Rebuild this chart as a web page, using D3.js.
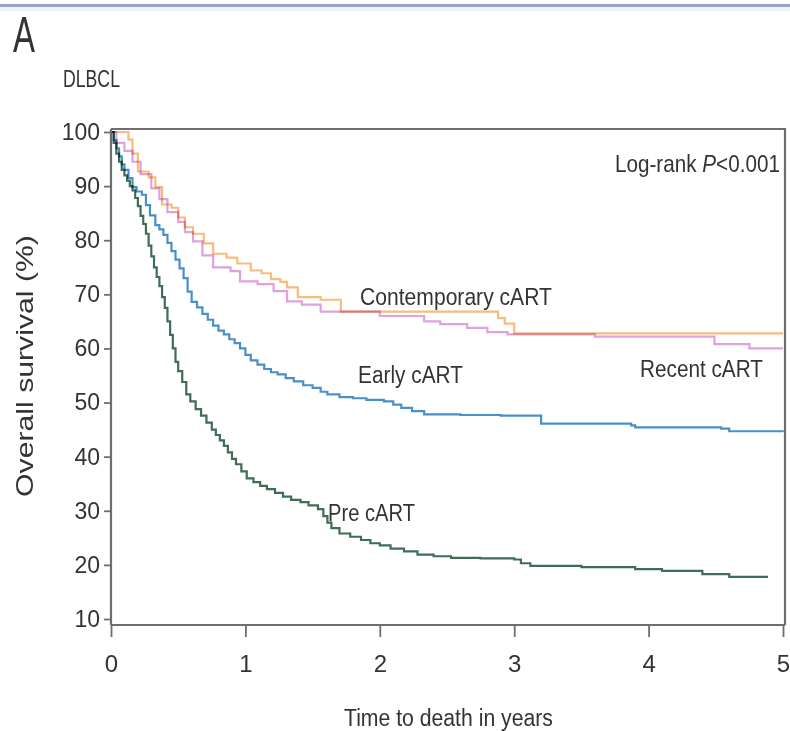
<!DOCTYPE html>
<html><head><meta charset="utf-8">
<script src="https://cdn.jsdelivr.net/npm/d3@7"></script>
<style>
html,body{margin:0;padding:0;background:#fff;}
svg{display:block;font-family:"Liberation Sans",Arial,sans-serif;}
</style></head>
<body>
<svg id="chart" width="790" height="731"></svg>
<script>
// ---- data ----
const xTicks = [0, 1, 2, 3, 4, 5];
const yTicks = [10, 20, 30, 40, 50, 60, 70, 80, 90, 100];

const preCART = [[0,100],[0.02,98],[0.04,96],[0.06,94.5],[0.08,93],[0.1,92],[0.12,91],[0.14,90],[0.16,89.2],
 [0.18,87.8],[0.2,86.3],[0.22,84.5],[0.24,83],[0.26,81.2],[0.28,79],[0.3,77],[0.32,75],[0.34,73.2],[0.36,71.5],
 [0.38,69.5],[0.4,67.5],[0.42,65],[0.44,62.5],[0.46,60],[0.48,57.5],[0.5,55.8],[0.53,53.8],[0.56,51.5],[0.59,50.2],
 [0.63,48.8],[0.67,47.6],[0.71,46.3],[0.75,45],[0.78,44],[0.81,43],[0.84,42],[0.87,40.8],[0.9,39.6],[0.93,38.6],
 [0.97,37.3],[1.01,36],[1.06,35.3],[1.11,34.6],[1.16,34],[1.22,33.3],[1.28,32.6],[1.34,32],[1.41,31.6],[1.47,31],
 [1.54,30.3],[1.58,29],[1.61,27.8],[1.64,26.8],[1.7,25.8],[1.78,25.2],[1.86,24.6],[1.93,24],[2.0,23.6],[2.08,23],
 [2.18,22.5],[2.28,21.9],[2.4,21.6],[2.53,21.3],[2.75,21.2],[3.0,21.0],[3.05,20.3],[3.12,19.8],[3.5,19.6],
 [3.9,19.2],[4.1,18.9],[4.4,18.3],[4.6,17.8],[4.88,17.6]];

const earlyCART = [[0,100],[0.02,98.5],[0.04,97],[0.06,95.5],[0.08,94],[0.1,93],[0.13,91.5],[0.16,89.8],[0.19,89],
 [0.23,88.4],[0.26,86.5],[0.29,84.6],[0.33,82.8],[0.36,82],[0.39,81],[0.42,79.5],[0.45,78],[0.48,76.4],[0.51,74.8],
 [0.54,73],[0.57,70.5],[0.6,68.6],[0.64,67.6],[0.68,66.4],[0.72,65.3],[0.76,64.2],[0.8,63.3],[0.84,62.6],[0.88,61.7],
 [0.92,61],[0.96,60],[1.0,58.8],[1.04,57.8],[1.09,57],[1.14,56.2],[1.19,55.6],[1.24,55.2],[1.3,54.5],[1.36,53.9],
 [1.43,53.2],[1.5,52.7],[1.56,52],[1.61,51.5],[1.7,51],[1.8,50.8],[1.9,50.5],[2.03,50.2],[2.1,49.6],[2.16,49],
 [2.24,48.4],[2.33,47.8],[2.6,47.7],[2.9,47.6],[3.2,46.1],[3.87,45.8],[3.9,45.4],[4.54,45.2],[4.6,44.7],[5.0,44.6]];

const contemporaryCART = [[0,100],[0.13,98.6],[0.16,96],[0.2,92.7],[0.28,91.6],[0.33,89.8],[0.38,86.6],[0.45,86],
 [0.5,84.2],[0.55,82.4],[0.61,81.2],[0.69,79.4],[0.76,77.5],[0.86,76.8],[0.94,75.7],[1.04,74.4],[1.12,73.9],
 [1.19,72.8],[1.26,72.3],[1.31,71.3],[1.39,69.5],[1.56,69],[1.71,66.8],[2.88,65.6],[2.93,64.6],[3.0,62.8],[5.0,62.8]];

const recentCART = [[0,100],[0.04,98],[0.1,96.5],[0.16,94.5],[0.22,92.2],[0.3,89.6],[0.36,87.6],[0.42,85.2],
 [0.5,83.4],[0.55,81.5],[0.61,79.8],[0.68,77.2],[0.76,75],[0.89,74.3],[0.96,72.4],[1.09,71.9],[1.21,70.6],
 [1.31,68.7],[1.42,68.1],[1.56,66.8],[2.0,66],[2.33,65],[2.45,64.5],[2.65,63.8],[2.8,63],[2.95,62.6],[3.6,62.2],
 [4.49,60.8],[4.75,60],[5.0,60]];

const seriesNames = ["Pre cART","Early cART","Recent cART","Contemporary cART"];
const seriesColors = ["#3f6e55","#4b8fc9","#e0a2df","#f5bd7e"];
const seriesData = [preCART, earlyCART, recentCART, contemporaryCART];

// ---- layout ----
const svg = d3.select("#chart");
const x = d3.scaleLinear().domain([0,5]).range([111,783]);
const y = d3.scaleLinear().domain([10,100]).range([619,132]);
const plotTop = 129, plotBottom = 625, plotLeft = 111, plotRight = 785;
const textColor = "#333";

// top screenshot strip
svg.append("rect").attr("x",0).attr("y",4).attr("width",790).attr("height",3).attr("fill","#97a3c6");
svg.append("rect").attr("x",0).attr("y",7).attr("width",790).attr("height",4).attr("fill","#eef2fa");

// condensed text helper
function ctext(g, str, xPos, base, size, width, opts={}) {
  const t = g.append("text").attr("x",0).attr("y",0)
    .attr("font-size",size).attr("fill",textColor);
  if (opts.parts) {
    opts.parts.forEach(p => t.append("tspan").text(p[0]).attr("font-style", p[1] ? "italic" : null));
  } else t.text(str);
  const w = t.node().getComputedTextLength();
  const s = width / w;
  t.attr("transform", `translate(${xPos},${base}) scale(${s},1)`);
  return t;
}

// curves
const line = d3.line().x(d=>x(d[0])).y(d=>y(d[1])).curve(d3.curveStepAfter);
const gc = svg.append("g");
seriesData.forEach((s,i)=>{
  gc.append("path").datum(s).attr("d",line).attr("fill","none")
    .attr("stroke",seriesColors[i]).attr("stroke-width",2.2)
    .style("mix-blend-mode","multiply");
});

// frame: top & right border
svg.append("path").attr("d",`M${plotLeft},${plotTop}H${plotRight}V${plotBottom}`)
  .attr("fill","none").attr("stroke","#6e6e6e").attr("stroke-width",2.2);

// y axis
const yAxis = d3.axisLeft(y).tickValues(yTicks).tickSize(7).tickPadding(4);
const gy = svg.append("g").attr("transform",`translate(${plotLeft},0)`).call(yAxis);
gy.select(".domain").attr("d",`M0,${plotTop}V${plotBottom}`).attr("stroke","#6e6e6e").attr("stroke-width",2.2);
gy.selectAll(".tick line").attr("stroke","#6e6e6e").attr("stroke-width",1.8);
gy.selectAll(".tick text").attr("font-size",23).attr("fill",textColor)
  .attr("font-family","Liberation Sans, Arial, sans-serif");

// x axis
const xAxis = d3.axisBottom(x).tickValues(xTicks).tickSize(12).tickPadding(18).tickFormat(d3.format("d"));
const gx = svg.append("g").attr("transform",`translate(0,${plotBottom})`).call(xAxis);
gx.select(".domain").attr("d",`M${plotLeft},0H${plotRight}`).attr("stroke","#6e6e6e").attr("stroke-width",2.2);
gx.selectAll(".tick line").attr("stroke","#6e6e6e").attr("stroke-width",1.8);
gx.selectAll(".tick text").attr("font-size",24).attr("fill",textColor)
  .attr("font-family","Liberation Sans, Arial, sans-serif");

// texts
ctext(svg, "A", 13, 52, 50, 22);
ctext(svg, "DLBCL", 63, 87, 24, 57);
ctext(svg, null, 615, 172, 24, 165, {parts:[["Log-rank ",false],["P",true],["<0.001",false]]});
ctext(svg, "Contemporary cART", 360, 305, 24, 192);
ctext(svg, "Early cART", 358, 383, 24, 105);
ctext(svg, "Recent cART", 640, 377, 24, 123);
ctext(svg, "Pre cART", 328, 521, 24, 87);
ctext(svg, "Time to death in years", 344, 726, 23, 209);

// y title (rotated, stretched)
const yt = svg.append("text").attr("font-size",23).attr("fill",textColor).attr("text-anchor","middle").text("Overall survival (%)");
const yw = yt.node().getComputedTextLength();
yt.attr("transform",`translate(33,366) rotate(-90) scale(${262/yw},1)`);
</script>
</body></html>
